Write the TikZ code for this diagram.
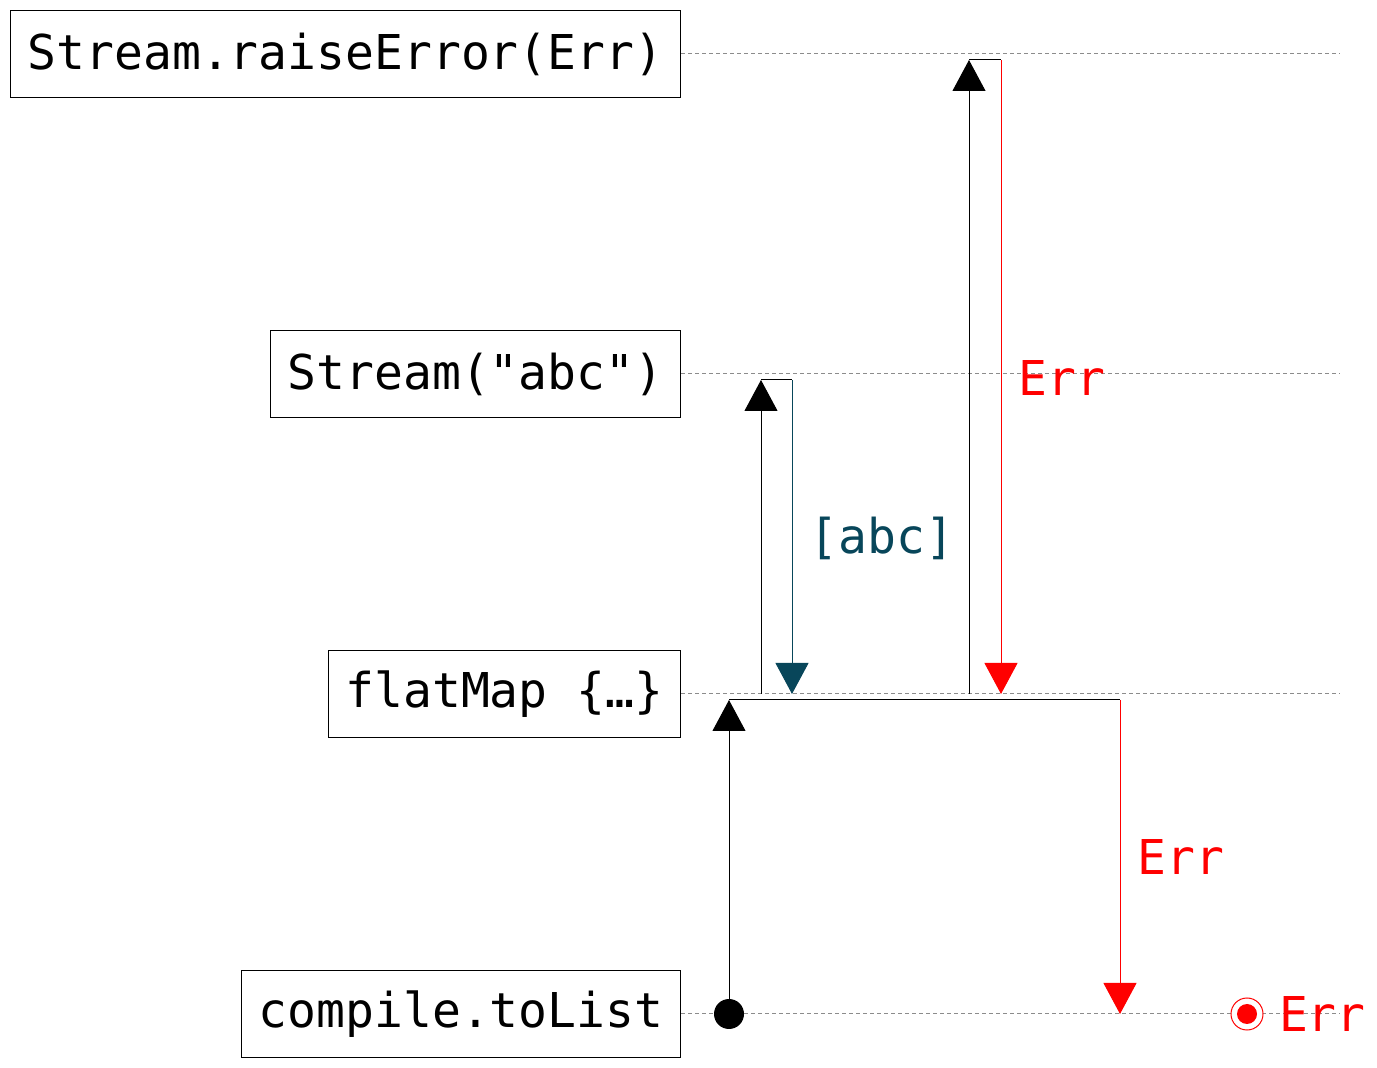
\documentclass[tikz,border=0pt]{standalone}
\usepackage{fontspec}
\setmonofont{DejaVu Sans Mono}
\usetikzlibrary{arrows.meta,positioning}
\definecolor{valueteal}{HTML}{08465A}

\begin{document}
\begin{tikzpicture}[
    x=0.5pt, y=-0.5pt,
    stage/.style={
        rectangle,
        draw=black,
        line width=0.6pt,
        minimum height=43.5pt,
        inner xsep=8.5pt,
        anchor=east,
        font=\ttfamily\fontsize{24}{28}\selectfont
    },
    lifeline/.style={
        draw=black!45,
        dash pattern=on 2pt off 1.5pt,
        line width=0.5pt
    },
    call/.style={
        -{Triangle[length=15.5pt,width=16.5pt]},
        line width=0.5pt,
        draw=black
    },
    emit/.style={call, draw=valueteal},
    fail/.style={call, draw=red},
    tag/.style={font=\ttfamily\fontsize{24}{28}\selectfont}
]
    \useasboundingbox (0,0) rectangle (1377,1068);

    % Nodes
    \node (raise)   [stage] at (681,54)   {Stream.raiseError(Err)};
    \node (stream)  [stage] at (681,374)  {Stream("abc")};
    \node (flatmap) [stage] at (681,694)  {flatMap \{…\}};
    \node (tolist)  [stage] at (681,1014) {compile.toList};

    % Lifelines
    \coordinate (raiseEnd)   at (1340,54);
    \coordinate (streamEnd)  at (1340,374);
    \coordinate (flatmapEnd) at (1340,694);
    \coordinate (tolistEnd)  at (1340,1014);
    \draw [lifeline] (raise.east)   -- (raiseEnd);
    \draw [lifeline] (stream.east)  -- (streamEnd);
    \draw [lifeline] (flatmap.east) -- (flatmapEnd);
    \draw [lifeline] (tolist.east)  -- (tolistEnd);

    % Turning points
    \coordinate (fmIn)     at (729,700);
    \coordinate (fmOut)    at (1120,700);
    \coordinate (fmDone)   at (1120,1014);
    \coordinate (abcFrom)  at (761,694);
    \coordinate (abcTop)   at (761,380);
    \coordinate (abcBack)  at (792,380);
    \coordinate (abcTo)    at (792,694);
    \coordinate (errFrom)  at (969,694);
    \coordinate (errTop)   at (969,60);
    \coordinate (errBack)  at (1001,60);
    \coordinate (errTo)    at (1001,694);

    \node (start) [circle, fill=black, minimum size=15pt, inner sep=0pt] at (729,1014) {};
    \node (stop)  [circle, draw=red, fill=white, line width=0.5pt, minimum size=16pt, inner sep=0pt] at (1247,1014) {};
    \node (stopDot) [circle, fill=red, minimum size=10pt, inner sep=0pt] at (stop) {};

    % Arrows
    \draw [call] (start) -- (fmIn);
    \draw [line width=0.5pt] (fmIn) -- (fmOut);
    \draw [fail] (fmOut) -- (fmDone);

    \draw [call] (abcFrom) -- (abcTop);
    \draw [line width=0.5pt] (abcTop) -- (abcBack);
    \draw [emit] (abcBack) -- (abcTo);

    \draw [call] (errFrom) -- (errTop);
    \draw [line width=0.5pt] (errTop) -- (errBack);
    \draw [fail] (errBack) -- (errTo);

    % Labels
    \node (abcLabel)  [tag, text=valueteal] at (882,538)  {[abc]};
    \node (errLabel1) [tag, text=red]       at (1062,378) {Err};
    \node (errLabel2) [tag, text=red]       at (1181,857) {Err};
    \node (errLabel3) [tag, text=red, anchor=west] at (1272,1014) {Err};

\end{tikzpicture}
\end{document}
